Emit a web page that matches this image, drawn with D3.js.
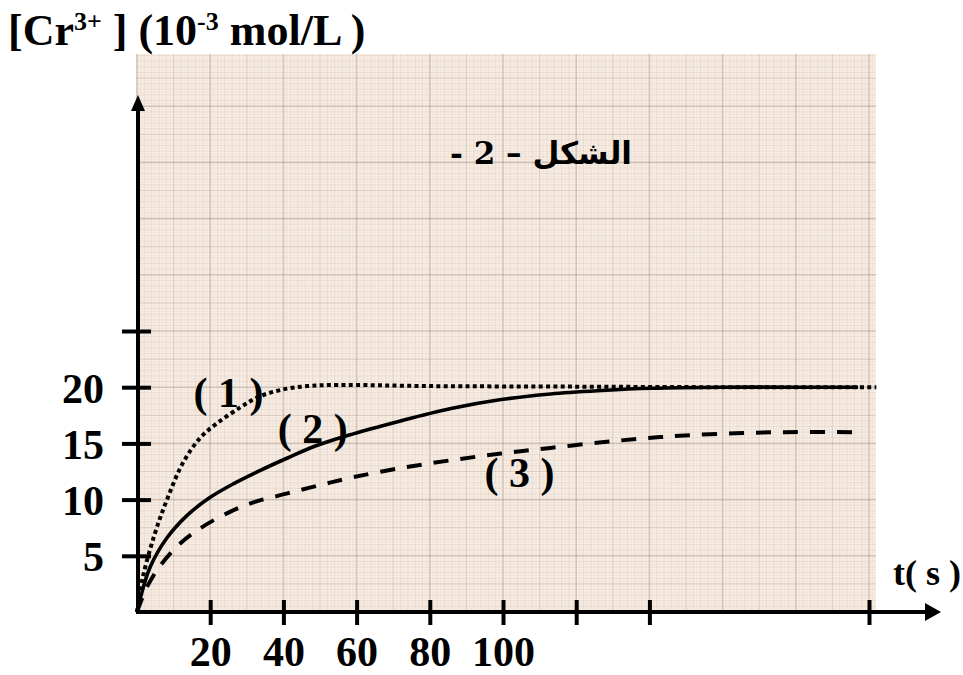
<!DOCTYPE html>
<html><head><meta charset="utf-8">
<script src="https://cdn.jsdelivr.net/npm/d3@7"></script>
<style>html,body{margin:0;padding:0;background:#fff;}svg{display:block;}</style>
</head><body>
<svg id="chart" width="963" height="675"></svg>
<script>
// ---- data ----
const xTicks = [20, 40, 60, 80, 100, 120, 140, 200];
const xTickLabels = ["20", "40", "60", "80", "100", "", "", ""];
const yTicks = [5, 10, 15, 20, 25];
const yTickLabels = ["5", "10", "15", "20", ""];

const t1 = [0, 1.6, 4.9, 8.2, 12.6, 17.3, 21.9, 28.2, 32.9, 39.2, 46.6, 55, 80, 120, 160, 202];
const c1 = [0, 3.1, 7.0, 10.0, 13.3, 15.5, 16.8, 18.2, 19.1, 19.75, 20.1, 20.2, 20.1, 20.05, 20.0, 20.0];

const t2 = [0, 0.8, 3.6, 8.2, 13.7, 20, 26.3, 33.7, 41.1, 48.2, 57.5, 72, 85.8, 99.5, 113, 127, 140.5, 160, 180, 197];
const c2 = [0, 1.1, 4.0, 6.6, 8.6, 10.2, 11.4, 12.6, 13.7, 14.7, 15.7, 17.0, 18.1, 18.9, 19.4, 19.7, 19.9, 20.0, 20.0, 20.0];

const t3 = [0, 2.7, 6.3, 11.8, 17.3, 24.7, 31.8, 41.1, 50.1, 59.2, 72, 85.8, 99.5, 113, 127, 138.6, 149.6, 163.3, 177, 196];
const c3 = [0, 2.2, 4.1, 6.1, 7.45, 8.8, 9.75, 10.55, 11.3, 12.0, 12.8, 13.5, 14.1, 14.6, 15.1, 15.45, 15.7, 15.9, 16.0, 16.0];

const curveLabels = ["( 1 )", "( 2 )", "( 3 )"];
const curveLabelT = [25, 48, 104.5];
const curveLabelC = [18.2, 15.0, 11.1];
const yTitle = ["[Cr", "3+", " ] (10", "-3", " mol/L )"];
const xTitle = "t( s )";
const figTitle = "الشكل – 2 -";

// ---- layout ----
const svg = d3.select("#chart");
const W = 963, H = 675;
const x = d3.scaleLinear().domain([0, 200]).range([137, 869]);
const y = d3.scaleLinear().domain([0, 25]).range([612, 331]);
const FONT = "'Liberation Serif','Times New Roman',serif";

svg.append("rect").attr("width", W).attr("height", H).attr("fill", "#fff");

// ---- graph paper background ----
const paper = svg.append("g");
const px0 = 136, px1 = 876, py0 = 54, py1 = 612;
paper.append("rect").attr("x", px0).attr("y", py0).attr("width", px1 - px0).attr("height", py1 - py0)
  .attr("fill", "#f8ede4");
const tMax = x.invert(px1), cMax = y.invert(py0);
function style(k, n) {
  if (k % (n * 2) === 0) return ["#ab9b8b", 1.6, 0.5];
  if (k % n === 0) return ["#bfae9e", 1.2, 0.45];
  if (k % 2 === 0) return ["#dccbbc", 0.9, 0.5];
  return ["#e8dacd", 0.7, 0.45];
}
for (let t = 0; t <= tMax; t += 1) {
  const xx = x(t);
  const [col, w, op] = style(t, 10);
  paper.append("line").attr("x1", xx).attr("x2", xx).attr("y1", py0).attr("y2", py1)
    .attr("stroke", col).attr("stroke-width", w).attr("opacity", op);
}
for (let k = 0; k <= cMax * 4; k += 1) {
  const yy = y(k / 4);
  if (yy < py0) break;
  const [col, w, op] = style(k, 10);
  paper.append("line").attr("x1", px0).attr("x2", px1).attr("y1", yy).attr("y2", yy)
    .attr("stroke", col).attr("stroke-width", w).attr("opacity", op);
}

// ---- curves ----
const line = d3.line().x(d => x(d[0])).y(d => y(d[1])).curve(d3.curveCatmullRom.alpha(0.5));
const series = [
  { t: t1, c: c1, dash: "4,3.3", w: 4 },
  { t: t2, c: c2, dash: null, w: 3.6 },
  { t: t3, c: c3, dash: "15,12", w: 4 }
];
series.forEach(s => {
  const pts = s.t.map((t, i) => [t, s.c[i]]);
  const p = svg.append("path").attr("d", line(pts)).attr("fill", "none")
    .attr("stroke", "#000").attr("stroke-width", s.w);
  if (s.dash) p.attr("stroke-dasharray", s.dash);
});

// ---- axes ----
svg.append("line").attr("x1", x(0)).attr("x2", 928).attr("y1", y(0)).attr("y2", y(0))
  .attr("stroke", "#000").attr("stroke-width", 4);
svg.append("path").attr("d", `M925,${y(0) - 9} L941,${y(0)} L925,${y(0) + 9} Z`).attr("fill", "#000");
svg.append("line").attr("x1", 138).attr("x2", 138).attr("y1", y(0) + 2).attr("y2", 108)
  .attr("stroke", "#000").attr("stroke-width", 4);
svg.append("path").attr("d", `M131,111 L138,95 L145,111 Z`).attr("fill", "#000");

const xAxis = d3.axisBottom(x).tickValues(xTicks).tickSize(0)
  .tickFormat((d, i) => xTickLabels[i]);
const gx = svg.append("g").attr("transform", `translate(0,${y(0)})`).call(xAxis);
gx.select(".domain").remove();
gx.selectAll(".tick line").attr("y1", -12).attr("y2", 13).attr("stroke", "#000").attr("stroke-width", 4);
gx.selectAll(".tick text").attr("y", 54).attr("dy", 0)
  .attr("font-family", FONT).attr("font-weight", "bold").attr("font-size", 42).attr("fill", "#000");

const yAxis = d3.axisLeft(y).tickValues(yTicks).tickSize(0)
  .tickFormat((d, i) => yTickLabels[i]);
const gy = svg.append("g").call(yAxis);
gy.select(".domain").remove();
gy.selectAll(".tick line").attr("x1", 122).attr("x2", 151).attr("stroke", "#000").attr("stroke-width", 4);
gy.selectAll(".tick text").attr("x", 104).attr("dy", "0.36em").attr("text-anchor", "end")
  .attr("font-family", FONT).attr("font-weight", "bold").attr("font-size", 42).attr("fill", "#000");

// ---- titles ----
const yt = svg.append("text").attr("x", 8).attr("y", 45)
  .attr("font-family", FONT).attr("font-weight", "bold").attr("font-size", 44).attr("fill", "#000");
yt.append("tspan").text(yTitle[0]);
yt.append("tspan").attr("dy", -15).attr("font-size", 26).text(yTitle[1]);
yt.append("tspan").attr("dy", 15).text(yTitle[2]);
yt.append("tspan").attr("dy", -15).attr("font-size", 26).text(yTitle[3]);
yt.append("tspan").attr("dy", 15).text(yTitle[4]);

svg.append("text").attr("x", 893).attr("y", 585)
  .attr("font-family", FONT).attr("font-weight", "bold").attr("font-size", 36).attr("fill", "#000")
  .text(xTitle);

svg.append("text").attr("x", 541).attr("y", 164).attr("text-anchor", "middle").attr("direction", "rtl")
  .attr("font-family", "'DejaVu Serif','DejaVu Sans',serif").attr("font-weight", "bold").attr("font-size", 31).attr("fill", "#000")
  .text(figTitle);

curveLabels.forEach((lab, i) => {
  svg.append("text").attr("x", x(curveLabelT[i])).attr("y", y(curveLabelC[i]))
    .attr("text-anchor", "middle")
    .attr("font-family", FONT).attr("font-weight", "bold").attr("font-size", 42).attr("fill", "#000")
    .text(lab);
});
</script>
</body></html>
